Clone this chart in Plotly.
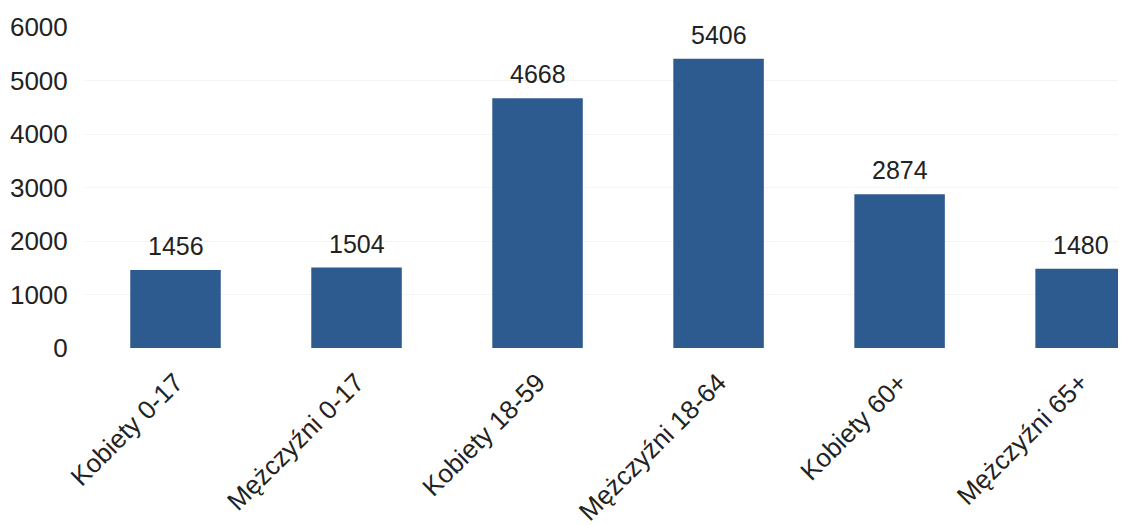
import plotly.graph_objects as go

categories = ["Kobiety 0-17", "Mężczyźni 0-17", "Kobiety 18-59", "Mężczyźni 18-64", "Kobiety 60+", "Mężczyźni 65+"]
values = [1456, 1504, 4668, 5406, 2874, 1480]
y_ticks = [0, 1000, 2000, 3000, 4000, 5000, 6000]

xs = list(range(len(categories)))

fig = go.Figure(go.Bar(
    x=xs,
    y=values,
    marker=dict(color="#2D5B8F", line=dict(width=0)),
))

for x, v in zip(xs, values):
    fig.add_annotation(
        x=x, y=v, text=str(v), showarrow=False,
        yanchor="bottom", yshift=8,
        font=dict(size=25, color="#222222"),
    )

fig.update_layout(
    width=1126, height=518,
    margin=dict(l=77, r=0, t=19, b=178),
    paper_bgcolor="white", plot_bgcolor="white",
    font=dict(family="Liberation Sans, Arial, sans-serif", size=25, color="#222222"),
    bargap=0.5,
    showlegend=False,
    xaxis=dict(
        tickmode="array",
        tickvals=xs,
        ticktext=categories,
        tickangle=-45,
        range=[-0.5, 5.295],
        showgrid=False, zeroline=False, showline=False,
        tickfont=dict(size=26, color="#222222"),
        ticks="outside", ticklen=8, tickcolor="rgba(0,0,0,0)",
        automargin=False,
    ),
    yaxis=dict(
        range=[0, 6000],
        tickvals=y_ticks,
        showgrid=True, gridcolor="#F4F4F4", gridwidth=1,
        zeroline=False, showline=False,
        tickfont=dict(size=26, color="#222222"),
        ticks="outside", ticklen=11, tickcolor="rgba(0,0,0,0)",
        automargin=False,
    ),
)

fig.write_html("out.html")
